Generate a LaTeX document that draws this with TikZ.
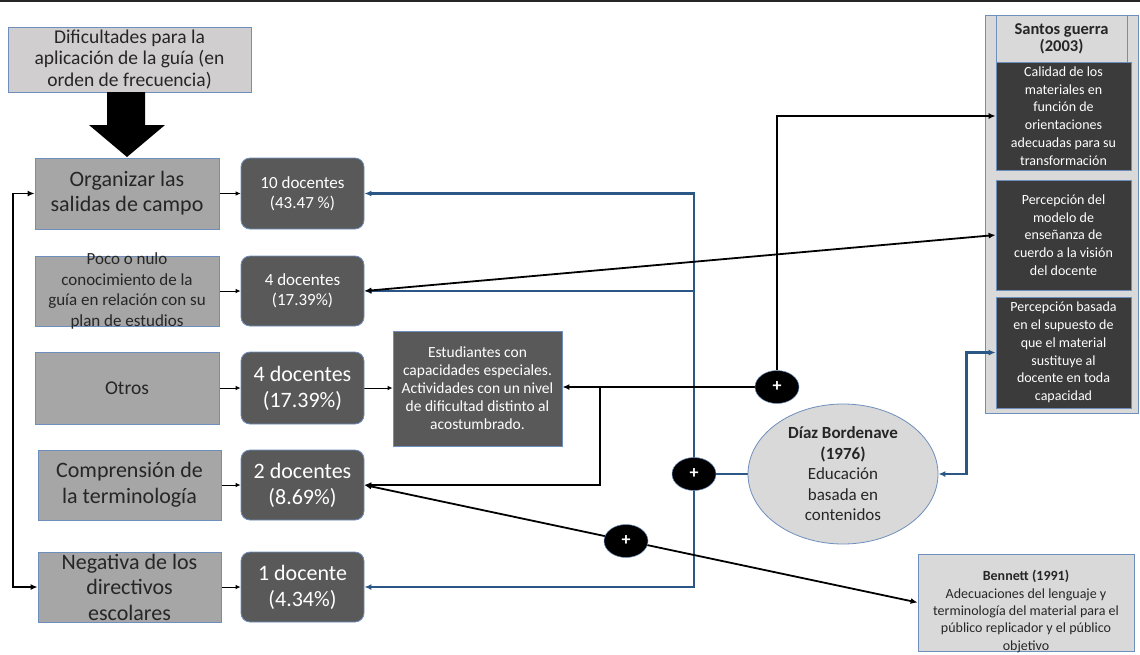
\documentclass[tikz,border=0pt]{standalone}
\usepackage{fontspec}
\setmainfont{Carlito}
\usetikzlibrary{shapes.geometric,arrows.meta}
\pgfdeclarelayer{back}
\pgfdeclarelayer{wires}
\pgfsetlayers{back,wires,main}

\definecolor{edgeblue}{HTML}{6E8FBD}
\definecolor{wireblue}{HTML}{2A5786}
\definecolor{titlefill}{HTML}{D0CECE}
\definecolor{stepfill}{HTML}{A6A6A6}
\definecolor{countfill}{HTML}{595959}
\definecolor{notefill}{HTML}{3B3B3B}
\definecolor{paperfill}{HTML}{D9D9D9}
\definecolor{inkgrey}{HTML}{262626}

\newcommand\fsz[2]{\fontsize{#1}{#2}\selectfont}

\begin{document}
\begin{tikzpicture}[x=1pt,y=-1pt,
  >={Latex[length=7pt,width=6pt]},
  edged/.style={draw=edgeblue,line width=0.8pt,inner sep=0pt,align=center},
  titlebox/.style={edged,fill=titlefill,text=inkgrey,minimum width=243pt,minimum height=65pt},
  stepbox/.style={edged,fill=stepfill,text=inkgrey,minimum width=184pt},
  countbox/.style={edged,fill=countfill,text=white,rounded corners=9pt,minimum width=123pt},
  notebox/.style={edged,fill=notefill,text=white,minimum width=135pt,font=\fsz{14}{17.7}},
  plusnode/.style={ellipse,fill=black,draw=edgeblue,line width=0.5pt,minimum width=44pt,
    minimum height=33pt,inner sep=0pt,text=white,font=\bfseries\fsz{18}{18}},
  thinarrow/.style={draw=black,line width=0.9pt,-{Latex[length=5pt,width=4.5pt]}},
  wire/.style={draw=black,line width=1.8pt},
  bluewire/.style={draw=wireblue,line width=2.3pt},
]
\useasboundingbox (0,0) rectangle (1140,654);

% rule along the top edge
\draw[line width=2pt,black!85] (0,1) -- (1140,1);

% heading and the big downward arrow
\node[titlebox,font=\fsz{19.5}{21.5}] (title) at (129.5,59.5)
  {Dificultades para la\\aplicación de la guía (en\\orden de frecuencia)};
\fill[black] (107,92) -- (145,92) -- (145,125) -- (165,125) -- (127,157)
  -- (89,125) -- (107,125) -- cycle;

% difficulties
\node[stepbox,minimum height=71pt,font=\fsz{22}{25}] (L1) at (127,193.5)
  {Organizar las\\salidas de campo};
\node[stepbox,minimum height=70pt,
  label={[font=\fsz{17}{20.5},text=inkgrey,align=center]center:{Poco o nulo\\conocimiento de la\\guía en relación con su\\plan de estudios}}]
  (L2) at (127,291) {};
\node[stepbox,minimum height=72pt,font=\fsz{19.5}{24}] (L3) at (127,388) {Otros};
\node[stepbox,minimum width=183pt,minimum height=70pt,font=\fsz{22}{26}] (L4) at (129.5,485)
  {Comprensión de\\la terminología};
\node[stepbox,minimum width=183pt,minimum height=70pt,
  label={[font=\fsz{22}{25.5},text=inkgrey,align=center]center:{Negativa de los\\directivos\\escolares}}]
  (L5) at (129.5,587) {};

% teacher counts
\node[countbox,minimum height=71pt,font=\fsz{17}{20}] (D1) at (302.5,193.5) {10 docentes\\(43.47 \%)};
\node[countbox,minimum height=70pt,font=\fsz{17}{20}] (D2) at (302.5,291) {4 docentes\\(17.39\%)};
\node[countbox,minimum height=72pt,font=\fsz{22}{26}] (D3) at (302.5,388) {4 docentes\\(17.39\%)};
\node[countbox,minimum height=70pt,font=\fsz{22}{26}] (D4) at (302.5,485) {2 docentes\\(8.69\%)};
\node[countbox,minimum height=70pt,font=\fsz{22}{26}] (D5) at (302.5,587) {1 docente\\(4.34\%)};

% detail for "Otros"
\node[edged,fill=countfill,text=white,minimum width=169pt,minimum height=115pt,font=\fsz{15.5}{18}]
  (Est) at (477.5,388.5)
  {Estudiantes con\\capacidades especiales.\\Actividades con un nivel\\de dificultad distinto al\\acostumbrado.};

% Santos Guerra panel
\begin{pgfonlayer}{back}
\node[edged,fill=paperfill,minimum width=153pt,minimum height=398pt] (SG) at (1061.5,214) {};
\end{pgfonlayer}
\node[edged,fill=paperfill,minimum width=131pt,minimum height=47pt,font=\bfseries\fsz{16.5}{17},text=inkgrey]
  (SGh) at (1061.5,38.5) {Santos guerra\\(2003)};
\node[notebox,minimum height=108pt] (S1) at (1063.5,116)
  {Calidad de los\\materiales en\\función de\\orientaciones\\adecuadas para su\\transformación};
\node[notebox,minimum height=110pt] (S2) at (1063.5,235)
  {Percepción del\\modelo de\\enseñanza de\\cuerdo a la visión\\del docente};
\node[notebox,minimum height=111pt] (S3) at (1063.5,352.5)
  {Percepción basada\\en el supuesto de\\que el material\\sustituye al\\docente en toda\\capacidad};

% Díaz Bordenave
\node[ellipse,draw=edgeblue,line width=0.8pt,fill=paperfill,minimum width=190pt,minimum height=140pt,inner sep=0pt,
  label={[align=center,text=inkgrey,font=\fsz{17}{20.5}]center:{\textbf{Díaz Bordenave}\\\textbf{(1976)}\\Educación\\basada en\\contenidos}}]
  (Diaz) at (843,474) {};

% Bennett
\node[edged,fill=paperfill,minimum width=216pt,minimum height=97pt,
  label={[align=center,text=inkgrey,font=\fsz{14}{17.3},yshift=-9pt]center:{\textbf{Bennett (1991)}\\Adecuaciones del lenguaje y\\terminología del material para el\\público replicador y el público\\objetivo}}]
  (Ben) at (1026,602.5) {};

% junctions
\node[plusnode] (P1) at (777,387) {+};
\node[plusnode] (P2) at (694,474) {+};
\node[plusnode] (P3) at (626,541) {+};

\coordinate (bk) at (13,0);
\coordinate (bus) at (694,0);
\coordinate (fork) at (600,0);

\begin{pgfonlayer}{wires}
% difficulty to count
\foreach \i in {1,...,5} \draw[thinarrow] (L\i.east) -- (D\i.west);
\draw[thinarrow] (D3.east) -- (D3.east -| Est.west);
% bracket on the left
\draw[wire,<->] (L1.west) -- (L1.west -| bk) |- (L5.west);
% blue bus from Díaz Bordenave
\draw[bluewire,<->] (D1.east) -- (D1.east -| bus) -- (bus |- D5.east) -- (D5.east);
\draw[bluewire,->] (bus |- D2.east) -- (D2.east);
\draw[bluewire] (P2) -- (Diaz.west);
\draw[bluewire,<->] (Diaz.east) -- ++(28,0) |- (S3.west);
% black links
\draw[wire,->] (P1.north) |- (S1.west);
\draw[wire,->] (P1.west) -- (P1.west -| Est.east);
\draw[wire,->] (fork |- P1.west) |- (D4.east);
\draw[wire,<->] (D2.east) -- (S2.west);
\draw[wire,<->] (D4.east) -- (Ben.west);
\end{pgfonlayer}
\end{tikzpicture}
\end{document}
